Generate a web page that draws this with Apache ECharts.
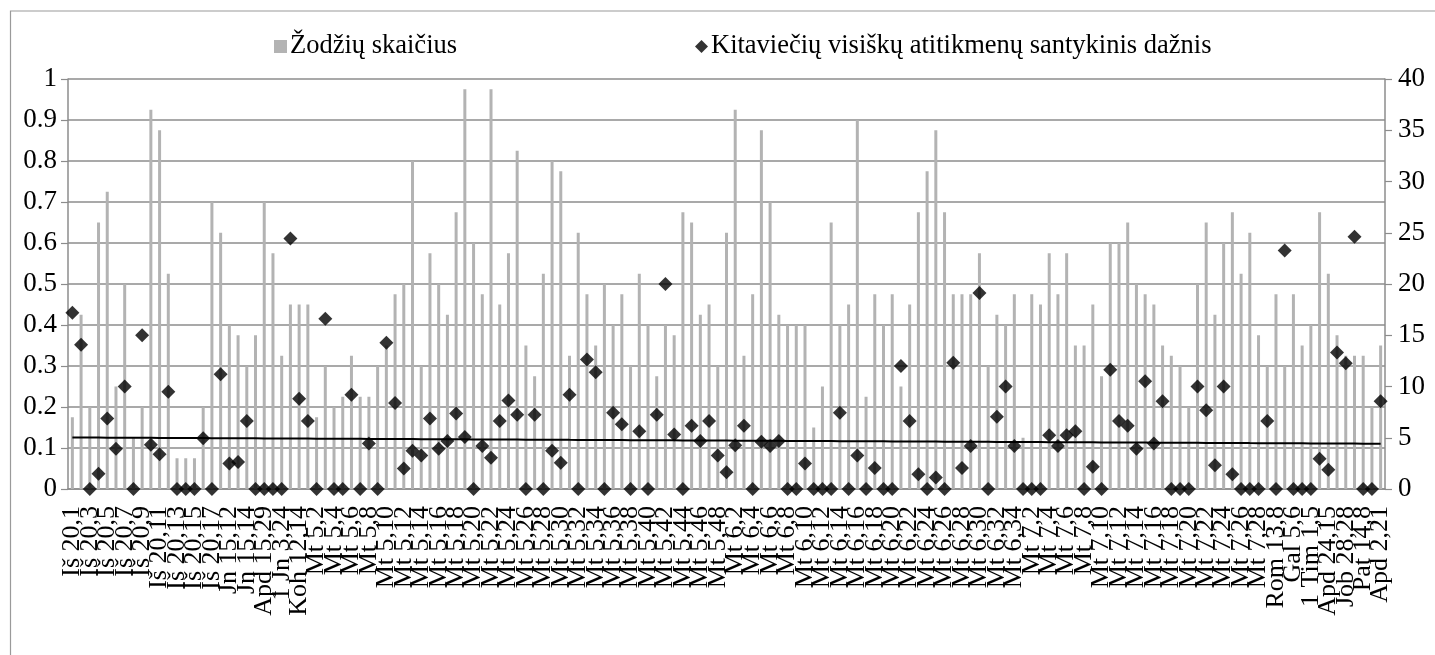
<!DOCTYPE html>
<html>
<head>
<meta charset="utf-8">
<script src="https://cdn.jsdelivr.net/npm/echarts@6/dist/echarts.min.js"></script>
<style>
html,body{margin:0;padding:0;background:#fff;}
#chart{width:1435px;height:655px;}
</style>
</head>
<body>
<div id="chart"></div>
<script>
// ---- data ----
const categories = [
  "Iš 20,1","Iš 20,2","Iš 20,3","Iš 20,4","Iš 20,5","Iš 20,6","Iš 20,7","Iš 20,8","Iš 20,9","Iš 20,10",
  "Iš 20,11","Iš 20,12","Iš 20,13","Iš 20,14","Iš 20,15","Iš 20,16","Iš 20,17",
  "Kun 19,18","Jn 15,12","Jn 15,13","Jn 15,14","Jn 15,17","Apd 15,29","1 Jn 3,23","1 Jn 3,24","Koh 12,13","Koh 12,14",
  "Mt 5,1","Mt 5,2","Mt 5,3","Mt 5,4","Mt 5,5","Mt 5,6","Mt 5,7","Mt 5,8","Mt 5,9","Mt 5,10",
  "Mt 5,11","Mt 5,12","Mt 5,13","Mt 5,14","Mt 5,15","Mt 5,16","Mt 5,17","Mt 5,18","Mt 5,19","Mt 5,20",
  "Mt 5,21","Mt 5,22","Mt 5,23","Mt 5,24","Mt 5,25","Mt 5,26","Mt 5,27","Mt 5,28","Mt 5,29","Mt 5,30",
  "Mt 5,31","Mt 5,32","Mt 5,33","Mt 5,34","Mt 5,35","Mt 5,36","Mt 5,37","Mt 5,38","Mt 5,39","Mt 5,40",
  "Mt 5,41","Mt 5,42","Mt 5,43","Mt 5,44","Mt 5,45","Mt 5,46","Mt 5,47","Mt 5,48",
  "Mt 6,1","Mt 6,2","Mt 6,3","Mt 6,4","Mt 6,5","Mt 6,6","Mt 6,7","Mt 6,8","Mt 6,9","Mt 6,10",
  "Mt 6,11","Mt 6,12","Mt 6,13","Mt 6,14","Mt 6,15","Mt 6,16","Mt 6,17","Mt 6,18","Mt 6,19","Mt 6,20",
  "Mt 6,21","Mt 6,22","Mt 6,23","Mt 6,24","Mt 6,25","Mt 6,26","Mt 6,27","Mt 6,28","Mt 6,29","Mt 6,30",
  "Mt 6,31","Mt 6,32","Mt 6,33","Mt 6,34",
  "Mt 7,1","Mt 7,2","Mt 7,3","Mt 7,4","Mt 7,5","Mt 7,6","Mt 7,7","Mt 7,8","Mt 7,9","Mt 7,10",
  "Mt 7,11","Mt 7,12","Mt 7,13","Mt 7,14","Mt 7,15","Mt 7,16","Mt 7,17","Mt 7,18","Mt 7,19","Mt 7,20",
  "Mt 7,21","Mt 7,22","Mt 7,23","Mt 7,24","Mt 7,25","Mt 7,26","Mt 7,27","Mt 7,28","Mt 7,29",
  "Rom 13,8","Rom 13,10","Gal 5,6","Gal 5,14","1 Tim 1,5","1 Tim 1,19","Apd 24,15","Apd 24,16",
  "Job 28,28","Pat 1,7","Pat 14,8","Mk 12,30","Apd 2,21"
];

const wordCounts = [
  7,17,8,26,29,10,20,5,8,37,
  35,21,3,3,3,8,28,
  25,16,15,12,15,28,23,13,18,18,
  18,7,12,8,9,13,9,9,12,14,
  19,20,32,12,23,20,17,27,39,24,
  19,39,18,23,33,14,11,21,32,31,
  13,25,19,14,20,16,19,12,21,16,
  11,16,15,27,26,17,18,12,
  25,37,13,19,35,28,17,16,16,16,
  6,10,26,16,18,36,9,19,16,19,
  10,18,27,31,35,27,19,19,19,23,
  12,17,16,19,
  5,19,18,23,19,23,14,14,18,11,
  24,24,26,20,19,18,14,13,12,8,
  20,26,17,24,27,21,25,15,12,
  19,12,19,14,16,27,21,15,
  13,13,13,8,14
];

const matchFreq = [
  0.430,0.352,0,0.037,0.172,0.098,0.250,0,0.375,0.108,
  0.085,0.237,0,0,0,0.124,0,
  0.280,0.062,0.066,0.166,0,0,0,0,0.611,0.220,
  0.166,0,0.415,0,0,0.230,0,0.111,0,0.357,
  0.210,0.050,0.093,0.082,0.172,0.098,0.117,0.184,0.127,0,
  0.105,0.076,0.166,0.216,0.181,0,0.181,0,0.093,0.064,
  0.230,0,0.316,0.285,0,0.186,0.158,0,0.141,0,
  0.181,0.500,0.133,0,0.154,0.117,0.166,0.082,
  0.041,0.107,0.154,0,0.115,0.105,0.117,0,0,0.062,
  0,0,0,0.186,0,0.082,0,0.051,0,0,
  0.300,0.166,0.036,0,0.028,0,0.308,0.051,0.105,0.478,
  0,0.176,0.250,0.105,
  0,0,0,0.131,0.105,0.131,0.141,0,0.054,0,
  0.291,0.166,0.154,0.098,0.263,0.111,0.214,0,0,0,
  0.250,0.192,0.058,0.250,0.036,0,0,0,0.166,
  0,0.582,0,0,0,0.074,0.047,0.333,
  0.307,0.615,0,0,0.214
];

const leftTicks = { min: 0, max: 1, interval: 0.1 };
const rightTicks = { min: 0, max: 40, interval: 5 };

const nameBars = "Žodžių skaičius";
const nameDiamonds = "Kitaviečių visiškų atitikmenų santykinis dažnis";

// ---- linear trendline (least squares over category index) ----
const n = matchFreq.length;
let sx = 0, sy = 0, sxx = 0, sxy = 0;
for (let i = 0; i < n; i++) {
  const x = i + 1, y = matchFreq[i];
  sx += x; sy += y; sxx += x * x; sxy += x * y;
}
const slope = (n * sxy - sx * sy) / (n * sxx - sx * sx);
const icpt = (sy - slope * sx) / n;
const trend = matchFreq.map((_, i) => +(icpt + slope * (i + 1)).toFixed(5));

// ---- chart ----
const FONT = "Liberation Serif";
const AXIS_GRAY = "#8c8c8c";
const chart = echarts.init(document.getElementById('chart'), null, { renderer: 'canvas' });

chart.setOption({
  animation: false,
  backgroundColor: '#ffffff',
  graphic: [{
    type: 'rect', left: 8, top: 8.5, silent: true, z: -10,
    shape: { width: 1440, height: 700 },
    style: { fill: 'none', stroke: '#9a9a9a', lineWidth: 1.2 }
  }],
  legend: [
    {
      data: [{ name: nameBars, icon: 'rect' }],
      left: 269, top: 28,
      itemWidth: 13, itemHeight: 13, itemGap: 4,
      textStyle: { fontFamily: FONT, fontSize: 26.5, color: '#000', padding: [0, 0, 0, -2] }
    },
    {
      data: [{ name: nameDiamonds, icon: 'diamond' }],
      left: 690, top: 28,
      itemWidth: 13, itemHeight: 13,
      textStyle: { fontFamily: FONT, fontSize: 26.5, color: '#000', padding: [0, 0, 0, -2] }
    }
  ],
  grid: { left: 68, right: 50, top: 79, bottom: 166, containLabel: false },
  xAxis: {
    type: 'category',
    data: categories,
    boundaryGap: true,
    axisLine: { lineStyle: { color: AXIS_GRAY, width: 1.5 } },
    axisTick: { interval: 0, length: 7, lineStyle: { color: AXIS_GRAY, width: 1.2 } },
    axisLabel: {
      interval: 0, rotate: 90, margin: 17, hideOverlap: false,
      formatter: (value, index) => (index % 2 === 0 ? value : ''),
      fontFamily: FONT, fontSize: 26, color: '#000'
    }
  },
  yAxis: [
    {
      type: 'value', position: 'left',
      min: leftTicks.min, max: leftTicks.max, interval: leftTicks.interval,
      axisLine: { show: true, lineStyle: { color: AXIS_GRAY, width: 1.5 } },
      axisTick: { show: true, length: 7, lineStyle: { color: AXIS_GRAY, width: 1.2 } },
      splitLine: { show: true, lineStyle: { color: AXIS_GRAY, width: 1.5 } },
      axisLabel: {
        margin: 11, fontFamily: FONT, fontSize: 27, color: '#000',
        formatter: v => String(+v.toFixed(1))
      }
    },
    {
      type: 'value', position: 'right',
      min: rightTicks.min, max: rightTicks.max, interval: rightTicks.interval,
      axisLine: { show: true, lineStyle: { color: AXIS_GRAY, width: 1.5 } },
      axisTick: { show: true, length: 7, lineStyle: { color: AXIS_GRAY, width: 1.2 } },
      splitLine: { show: false },
      axisLabel: { margin: 13, fontFamily: FONT, fontSize: 27, color: '#000' }
    }
  ],
  series: [
    {
      name: nameBars, type: 'bar', yAxisIndex: 1,
      data: wordCounts, barWidth: 3,
      itemStyle: { color: '#b3b3b3' }, z: 2
    },
    {
      name: 'trend', type: 'line', yAxisIndex: 0,
      data: trend, symbol: 'none', silent: true,
      lineStyle: { color: '#000', width: 2 }, z: 3
    },
    {
      name: nameDiamonds, type: 'scatter', yAxisIndex: 0,
      data: matchFreq, symbol: 'diamond', symbolSize: 14,
      itemStyle: { color: '#000' }, z: 4
    }
  ]
});
</script>
</body>
</html>
